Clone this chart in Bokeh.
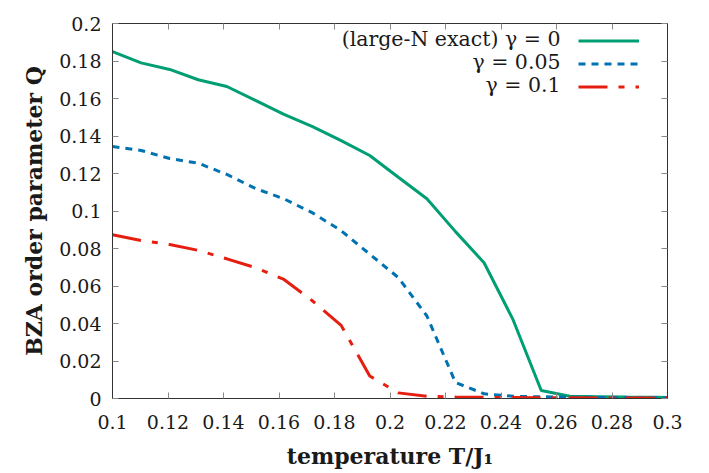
from bokeh.plotting import figure
from bokeh.models import (LinearAxis, FixedTicker, Legend, LegendItem, Label,
                          Range1d)
from bokeh.embed import file_html
from bokeh.resources import INLINE

# ---- data ----
temperature = [0.1, 0.1103, 0.1206, 0.1309, 0.1412, 0.1515, 0.1618, 0.1721,
               0.1824, 0.1927, 0.2030, 0.2133, 0.2236, 0.2339, 0.2442, 0.2545,
               0.2648, 0.2751, 0.2854, 0.2957, 0.3]
q_gamma0 = [0.185, 0.179, 0.1755, 0.170, 0.1664, 0.159, 0.1515, 0.145,
            0.1375, 0.1296, 0.118, 0.1065, 0.089, 0.0724, 0.0425, 0.0043,
            0.0012, 0.0010, 0.0008, 0.0007, 0.0006]
q_gamma005 = [0.1344, 0.1323, 0.128, 0.1255, 0.1195, 0.112, 0.1065, 0.099,
              0.0895, 0.077, 0.0645, 0.044, 0.0085, 0.0025, 0.0012, 0.0009,
              0.0007, 0.0006, 0.0005, 0.0004, 0.0004]
q_gamma01 = [0.0873, 0.0843, 0.0821, 0.079, 0.0745, 0.0698, 0.0635, 0.052,
             0.039, 0.012, 0.003, 0.0012, 0.0008, 0.0006, 0.0005, 0.0004,
             0.0004, 0.0003, 0.0003, 0.0003, 0.0003]
series_labels = ["(large-N exact) γ = 0", "γ = 0.05", "γ = 0.1"]
x_ticks = [0.1, 0.12, 0.14, 0.16, 0.18, 0.2, 0.22, 0.24, 0.26, 0.28, 0.3]
x_tick_labels = ["0.1", "0.12", "0.14", "0.16", "0.18", "0.2", "0.22",
                 "0.24", "0.26", "0.28", "0.3"]
y_ticks = [0, 0.02, 0.04, 0.06, 0.08, 0.1, 0.12, 0.14, 0.16, 0.18, 0.2]
y_tick_labels = ["0", "0.02", "0.04", "0.06", "0.08", "0.1", "0.12", "0.14",
                 "0.16", "0.18", "0.2"]

TICK_FONT = "DejaVu Serif"
LEGEND_FONT = "DejaVu Serif"
BOLD_FONT = "DejaVu Serif"
FRAME_COLOR = "#333333"
TICK_COLOR = "#888888"

p = figure(frame_width=555, frame_height=375, width=709, height=473,
           output_backend="svg", toolbar_location=None,
           x_range=Range1d(0.1, 0.3), y_range=Range1d(0, 0.2),
           min_border_left=112, min_border_right=42, min_border_top=23,
           min_border_bottom=75)
p.xgrid.visible = False
p.ygrid.visible = False
p.outline_line_color = FRAME_COLOR
p.outline_line_width = 1
p.background_fill_color = "white"
p.border_fill_color = "white"

def style_axis(ax, labels, ticks, show_labels=True):
    ax.ticker = FixedTicker(ticks=ticks)
    ax.minor_tick_line_color = None
    ax.major_tick_in = 6
    ax.major_tick_out = 0
    ax.major_tick_line_color = TICK_COLOR
    ax.major_tick_line_width = 1
    ax.axis_line_color = FRAME_COLOR
    ax.major_label_text_font = TICK_FONT
    ax.major_label_text_font_size = "19px"
    ax.major_label_text_color = "#1a1a1a"
    if show_labels:
        ax.major_label_overrides = {t: l for t, l in zip(ticks, labels)}
    else:
        ax.major_label_overrides = {t: "" for t in ticks}
        ax.major_label_standoff = 0

xa = p.xaxis[0]
style_axis(xa, x_tick_labels, x_ticks)
xa.major_label_standoff = 16
xa.axis_label = "temperature T/J₁"
xa.axis_label_text_font = BOLD_FONT
xa.axis_label_text_font_style = "bold"
xa.axis_label_text_font_size = "22px"
xa.axis_label_standoff = 11
xa.axis_label_text_color = "#1a1a1a"

ya = p.yaxis[0]
style_axis(ya, y_tick_labels, y_ticks)
ya.major_label_standoff = 11
ya.axis_label = "BZA order parameter Q"
ya.axis_label_text_font = BOLD_FONT
ya.axis_label_text_font_style = "bold"
ya.axis_label_text_font_size = "22px"
ya.axis_label_standoff = 9
ya.axis_label_text_color = "#1a1a1a"

top_axis = LinearAxis()
style_axis(top_axis, x_tick_labels, x_ticks, show_labels=False)
p.add_layout(top_axis, "above")
right_axis = LinearAxis()
style_axis(right_axis, y_tick_labels, y_ticks, show_labels=False)
p.add_layout(right_axis, "right")

r0 = p.line(temperature, q_gamma0, line_color="#009e73", line_width=3)
r1 = p.line(temperature, q_gamma005, line_color="#0072b2", line_width=3,
            line_dash="7 6")
r2 = p.line(temperature, q_gamma01, line_color="#e51e10", line_width=3,
            line_dash="29 11 6 11")

legend = Legend(items=[LegendItem(label="", renderers=[r]) for r in (r0, r1, r2)],
                location=(466, 300), glyph_width=61, glyph_height=23,
                label_width=0, label_height=23, label_standoff=0, padding=0,
                spacing=0, margin=0, border_line_color=None,
                background_fill_alpha=0)
p.add_layout(legend)

row_y = [360, 337, 314]
for txt, yy in zip(series_labels, row_y):
    p.add_layout(Label(x=448, y=yy, x_units="screen", y_units="screen",
                       text=txt, text_align="right", text_baseline="middle",
                       text_font=LEGEND_FONT, text_font_size="20.5px",
                       text_color="#1a1a1a"))

open("out.html", "w").write(file_html(p, INLINE))
